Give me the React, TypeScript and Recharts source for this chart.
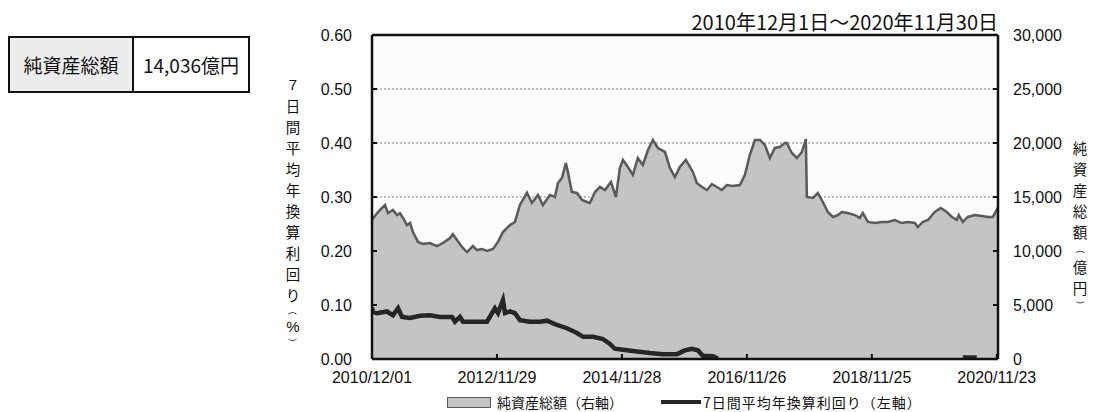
import React from 'react';
import { ComposedChart, Area, Line, XAxis, YAxis, CartesianGrid } from 'recharts';

// 純資産総額 (億円) — day offset from 2010/12/01
const navDay = [0, 29, 47, 76, 93, 122, 146, 163, 181, 204, 222, 239, 268, 297, 338, 379, 414, 455, 472, 496, 525, 554, 589, 612, 642, 671, 706, 735, 764, 805, 834, 863, 904, 933, 968, 997, 1038, 1067, 1085, 1108, 1131, 1143, 1166, 1196, 1225, 1254, 1271, 1301, 1330, 1359, 1394, 1423, 1446, 1464, 1493, 1522, 1551, 1580, 1610, 1639, 1668, 1709, 1738, 1767, 1796, 1831, 1855, 1872, 1895, 1925, 1954, 1983, 2012, 2041, 2070, 2105, 2146, 2175, 2204, 2234, 2263, 2292, 2321, 2350, 2379, 2409, 2420, 2449, 2479, 2508, 2531, 2537, 2572, 2601, 2630, 2659, 2689, 2718, 2741, 2776, 2817, 2846, 2863, 2893, 2933, 2974, 3009, 3050, 3091, 3126, 3167, 3184, 3213, 3243, 3283, 3318, 3353, 3383, 3412, 3423, 3447, 3476, 3517, 3558, 3593, 3622, 3645, 3652];
const navValue = [12900, 13490, 13800, 14260, 13500, 13800, 13330, 13500, 13060, 12400, 12600, 11760, 10840, 10650, 10740, 10460, 10740, 11200, 11570, 11020, 10370, 9900, 10460, 10090, 10190, 10000, 10190, 10840, 11760, 12400, 12690, 14260, 15400, 14450, 15190, 14260, 15190, 15000, 16300, 16760, 18150, 17320, 15460, 15370, 14720, 14540, 14450, 15460, 15930, 15650, 16390, 15000, 17690, 18430, 17780, 17040, 18610, 17960, 19350, 20280, 19540, 19170, 17690, 16850, 17780, 18430, 17780, 17320, 16300, 15930, 15650, 16200, 15930, 15650, 16110, 16020, 16110, 17040, 18890, 20280, 20280, 19820, 18610, 19540, 19630, 20000, 20000, 19080, 18610, 19170, 20370, 15000, 14910, 15370, 14540, 13610, 13150, 13330, 13610, 13520, 13330, 13060, 13520, 12690, 12590, 12690, 12690, 12870, 12590, 12690, 12590, 12220, 12690, 12870, 13610, 13980, 13610, 13150, 12870, 13330, 12690, 13150, 13330, 13240, 13150, 13150, 13800, 14036];

// 7日間平均年換算利回り (%)
const yieldDay = [0, 6, 29, 87, 122, 152, 175, 222, 280, 338, 397, 467, 484, 513, 531, 589, 671, 700, 717, 735, 764, 776, 805, 834, 863, 921, 980, 1021, 1079, 1137, 1196, 1231, 1289, 1347, 1388, 1417, 1464, 1545, 1621, 1697, 1779, 1825, 1866, 1901, 1930, 1989, 2018, 2030, 3430, 3447, 3528, 3540, 3652];
const yieldValue = [0.095, 0.087, 0.085, 0.088, 0.081, 0.094, 0.078, 0.076, 0.080, 0.081, 0.078, 0.078, 0.069, 0.078, 0.069, 0.069, 0.069, 0.085, 0.094, 0.085, 0.109, 0.085, 0.088, 0.085, 0.072, 0.069, 0.069, 0.071, 0.063, 0.057, 0.048, 0.041, 0.041, 0.037, 0.028, 0.019, 0.017, 0.014, 0.011, 0.009, 0.009, 0.016, 0.019, 0.016, 0.006, 0.005, 0.001, null, null, 0.003, 0.003, null, null];

const xTickDays = [0, 729, 1458, 2187, 2916, 3645];
const xTickLabels = ['2010/12/01', '2012/11/29', '2014/11/28', '2016/11/26', '2018/11/25', '2020/11/23'];
const leftTicks = [0, 0.1, 0.2, 0.3, 0.4, 0.5, 0.6];
const rightTicks = [0, 5000, 10000, 15000, 20000, 25000, 30000];

const title = '2010年12月1日～2020年11月30日';
const summaryLabel = '純資産総額';
const summaryValue = '14,036億円';
const leftAxisChars = ['7', '日', '間', '平', '均', '年', '換', '算', '利', '回', 'り', '（', '%', '）'];
const rightAxisChars = ['純', '資', '産', '総', '額', '（', '億', '円', '）'];
const legendNav = '純資産総額（右軸）';
const legendYield = '7日間平均年換算利回り（左軸）';

const navData = navDay.map((d, i) => ({ day: d, nav: navValue[i] }));
const yieldData = yieldDay.map((d, i) => ({ day: d, y: yieldValue[i] }));

const JP = '"Noto Sans CJK JP", "Noto Sans", sans-serif';
const NUM = '"Liberation Sans", Arial, sans-serif';

function VerticalLabel({ chars, left, top, pitch, parenPitch }: { chars: string[]; left: number; top: number; pitch: number; parenPitch: number }) {
  return (
    <div style={{ position: 'absolute', left, top, width: 22, display: 'flex', flexDirection: 'column', alignItems: 'center', color: '#111' }}>
      {chars.map((c, i) => {
        const paren = c === '（' || c === '）';
        const h = paren ? parenPitch : pitch;
        return (
          <div
            key={i}
            style={{
              height: h,
              lineHeight: h + 'px',
              fontSize: paren ? 9 : c === '7' || c === '%' ? 15 : 14.5,
              transform: paren ? 'rotate(90deg)' : undefined,
              fontFamily: c === '7' || c === '%' ? NUM : JP,
            }}
          >
            {c}
          </div>
        );
      })}
    </div>
  );
}

export default function App() {
  return (
    <div style={{ position: 'relative', width: 1096, height: 412, background: '#fff', overflow: 'hidden' }}>
      <style>{'body{margin:0;}'}</style>
      <ComposedChart width={1096} height={412} margin={{ top: 5, right: 0, bottom: 0, left: 0 }}>
        <CartesianGrid yAxisId="left" vertical={false} stroke="#808080" strokeDasharray="2 2" fill="#fbfbfb" fillOpacity={1} />
        <XAxis xAxisId="top" orientation="top" type="number" dataKey="day" domain={[0, 3652]} height={30} tick={false} tickLine={false} axisLine={{ stroke: '#111', strokeWidth: 2.5 }} allowDataOverflow />
        <XAxis
          type="number"
          dataKey="day"
          domain={[0, 3652]}
          ticks={xTickDays}
          interval={0}
          height={53}
          tickFormatter={(v: number) => xTickLabels[xTickDays.indexOf(v)] ?? ''}
          tick={{ fill: '#111', fontSize: 16, fontFamily: NUM }}
          tickSize={-5}
          tickMargin={18}
          tickLine={{ stroke: '#111', strokeWidth: 2 }}
          axisLine={{ stroke: '#111', strokeWidth: 2.5 }}
          allowDataOverflow
        />
        <YAxis
          yAxisId="left"
          orientation="left"
          width={372}
          domain={[0, 0.6]}
          ticks={leftTicks}
          interval={0}
          tickFormatter={(v: number) => v.toFixed(2)}
          tick={{ fill: '#111', fontSize: 16, fontFamily: NUM }}
          tickSize={-5}
          tickMargin={25}
          tickLine={{ stroke: '#111', strokeWidth: 2 }}
          axisLine={{ stroke: '#111', strokeWidth: 2.5 }}
          allowDataOverflow
        />
        <YAxis
          yAxisId="right"
          orientation="right"
          width={98}
          domain={[0, 30000]}
          ticks={rightTicks}
          interval={0}
          tickFormatter={(v: number) => v.toLocaleString('en-US')}
          tick={{ fill: '#111', fontSize: 16, fontFamily: NUM }}
          tickSize={-5}
          tickMargin={20}
          tickLine={{ stroke: '#111', strokeWidth: 2 }}
          axisLine={{ stroke: '#111', strokeWidth: 2.5 }}
          allowDataOverflow
        />
        <Area
          yAxisId="right"
          data={navData}
          dataKey="nav"
          type="linear"
          stroke="#5a5a5a"
          strokeWidth={2.5}
          fill="#c4c4c4"
          fillOpacity={1}
          dot={false}
          activeDot={false}
          isAnimationActive={false}
        />
        <Line
          yAxisId="left"
          data={yieldData}
          dataKey="y"
          type="linear"
          stroke="#262626"
          strokeWidth={4.5}
          dot={false}
          activeDot={false}
          connectNulls={false}
          isAnimationActive={false}
        />
      </ComposedChart>

      {/* summary table */}
      <div style={{ position: 'absolute', left: 8, top: 36, width: 242, height: 57, boxSizing: 'border-box', border: '2px solid #111', display: 'flex', fontFamily: JP, fontSize: 19, color: '#111' }}>
        <div style={{ width: 122, background: '#ececec', borderRight: '2px solid #111', display: 'flex', alignItems: 'center', justifyContent: 'center' }}>{summaryLabel}</div>
        <div style={{ flex: 1, display: 'flex', alignItems: 'center', justifyContent: 'center' }}>{summaryValue}</div>
      </div>

      {/* title */}
      <div style={{ position: 'absolute', right: 1096 - 998, top: 8, fontFamily: JP, fontSize: 20, lineHeight: '28px', color: '#111', whiteSpace: 'nowrap' }}>{title}</div>

      {/* axis titles */}
      <VerticalLabel chars={leftAxisChars} left={282} top={74} pitch={21} parenPitch={11} />
      <VerticalLabel chars={rightAxisChars} left={1069} top={137} pitch={21} parenPitch={14} />

      {/* legend */}
      <div style={{ position: 'absolute', left: 447, top: 392, height: 20, display: 'flex', alignItems: 'center', fontFamily: JP, fontSize: 14, lineHeight: '20px', color: '#111', whiteSpace: 'nowrap' }}>
        <div style={{ width: 44, height: 11, background: '#c4c4c4', border: '1.5px solid #5a5a5a', boxSizing: 'border-box', marginRight: 6 }} />
        <span>{legendNav}</span>
        <div style={{ width: 40, height: 4, background: '#262626', marginLeft: 38, marginRight: 2 }} />
        <span style={{ letterSpacing: 1 }}>{legendYield}</span>
      </div>
    </div>
  );
}
